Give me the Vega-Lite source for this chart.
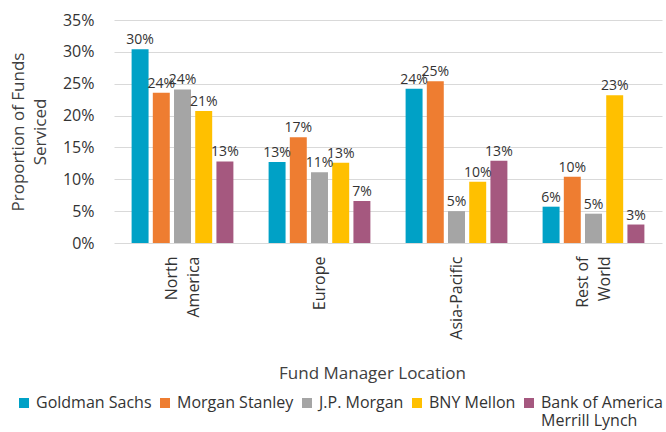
{
  "$schema": "https://vega.github.io/schema/vega-lite/v6.json",
  "width": 548,
  "height": 223,
  "autosize": {"type": "none"},
  "padding": {"left": 114, "top": 20, "right": 4, "bottom": 189},
  "background": "white",
  "config": {
    "font": "Open Sans",
    "view": {"stroke": null},
    "axis": {"labelFont": "Open Sans", "titleFont": "Open Sans", "labelColor": "#333333", "titleColor": "#404040", "titleFontWeight": "normal"},
    "legend": {"labelFont": "Open Sans"}
  },
  "data": {
    "values": [
      {"location": "North America", "bank": "Goldman Sachs", "value": 0.304},
      {"location": "North America", "bank": "Morgan Stanley", "value": 0.236},
      {"location": "North America", "bank": "J.P. Morgan", "value": 0.241},
      {"location": "North America", "bank": "BNY Mellon", "value": 0.207},
      {"location": "North America", "bank": "Bank of America Merrill Lynch", "value": 0.128},
      {"location": "Europe", "bank": "Goldman Sachs", "value": 0.127},
      {"location": "Europe", "bank": "Morgan Stanley", "value": 0.166},
      {"location": "Europe", "bank": "J.P. Morgan", "value": 0.111},
      {"location": "Europe", "bank": "BNY Mellon", "value": 0.126},
      {"location": "Europe", "bank": "Bank of America Merrill Lynch", "value": 0.066},
      {"location": "Asia-Pacific", "bank": "Goldman Sachs", "value": 0.242},
      {"location": "Asia-Pacific", "bank": "Morgan Stanley", "value": 0.254},
      {"location": "Asia-Pacific", "bank": "J.P. Morgan", "value": 0.050},
      {"location": "Asia-Pacific", "bank": "BNY Mellon", "value": 0.096},
      {"location": "Asia-Pacific", "bank": "Bank of America Merrill Lynch", "value": 0.129},
      {"location": "Rest of World", "bank": "Goldman Sachs", "value": 0.057},
      {"location": "Rest of World", "bank": "Morgan Stanley", "value": 0.104},
      {"location": "Rest of World", "bank": "J.P. Morgan", "value": 0.046},
      {"location": "Rest of World", "bank": "BNY Mellon", "value": 0.232},
      {"location": "Rest of World", "bank": "Bank of America Merrill Lynch", "value": 0.029}
    ]
  },
  "encoding": {
    "x": {
      "field": "location",
      "type": "nominal",
      "sort": ["North America", "Europe", "Asia-Pacific", "Rest of World"],
      "scale": {"paddingInner": 0.226, "paddingOuter": 0.113},
      "axis": {
        "title": "Fund Manager Location",
        "titleFontSize": 17,
        "titleX": 258,
        "titleY": 135,
        "titleAlign": "center",
        "titleBaseline": "alphabetic",
        "labelAngle": -90,
        "labelFontSize": 16,
        "labelPadding": 13,
        "labelLineHeight": 22,
        "labelOffset": {"condition": {"test": "datum.value == 'North America' || datum.value == 'Rest of World'", "value": -11}, "value": 0},
        "labelExpr": "datum.value == 'North America' ? ['North', 'America'] : datum.value == 'Rest of World' ? ['Rest of', 'World'] : datum.value",
        "ticks": false,
        "domain": false,
        "grid": false
      }
    },
    "xOffset": {
      "field": "bank",
      "type": "nominal",
      "sort": ["Goldman Sachs", "Morgan Stanley", "J.P. Morgan", "BNY Mellon", "Bank of America Merrill Lynch"],
      "scale": {"paddingInner": 0.2, "paddingOuter": 0.1}
    },
    "y": {
      "field": "value",
      "type": "quantitative",
      "scale": {"domain": [0, 0.35]},
      "axis": {
        "title": ["Proportion of Funds", "Serviced"],
        "titleFontSize": 17,
        "titleLineHeight": 22,
        "titleX": -104,
        "titleY": 111.5,
        "titleAngle": -90,
        "titleAlign": "center",
        "titleBaseline": "top",
        "format": ".0%",
        "values": [0, 0.05, 0.1, 0.15, 0.2, 0.25, 0.3, 0.35],
        "labelFontSize": 16,
        "labelPadding": 20,
        "ticks": false,
        "tickSize": 0,
        "domain": false,
        "grid": true,
        "gridColor": "#D9D9D9",
        "gridWidth": 1
      }
    },
    "color": {
      "field": "bank",
      "type": "nominal",
      "sort": ["Goldman Sachs", "Morgan Stanley", "J.P. Morgan", "BNY Mellon", "Bank of America Merrill Lynch"],
      "scale": {
        "domain": ["Goldman Sachs", "Morgan Stanley", "J.P. Morgan", "BNY Mellon", "Bank of America Merrill Lynch"],
        "range": ["#00A1C6", "#EE7D31", "#A5A5A5", "#FFC000", "#A5587F"]
      },
      "legend": {
        "title": null,
        "orient": "none",
        "direction": "horizontal",
        "columns": 5,
        "legendX": -98,
        "legendY": 375,
        "padding": 0,
        "symbolType": "square",
        "symbolSize": 100,
        "symbolStrokeWidth": 0,
        "labelFontSize": 16,
        "labelColor": "#333333",
        "labelOffset": 4,
        "columnPadding": 5,
        "labelLimit": 300,
        "labelLineHeight": 22,
        "labelExpr": "datum.label == 'Bank of America Merrill Lynch' ? ['Bank of America', 'Merrill Lynch'] : [datum.label, '']"
      }
    }
  },
  "layer": [
    {"mark": {"type": "bar"}},
    {
      "mark": {"type": "text", "baseline": "alphabetic", "dy": -5, "fontSize": 14, "font": "Open Sans"},
      "encoding": {
        "text": {"field": "value", "type": "quantitative", "format": ".0%"},
        "color": {"value": "#333333"}
      }
    }
  ]
}
